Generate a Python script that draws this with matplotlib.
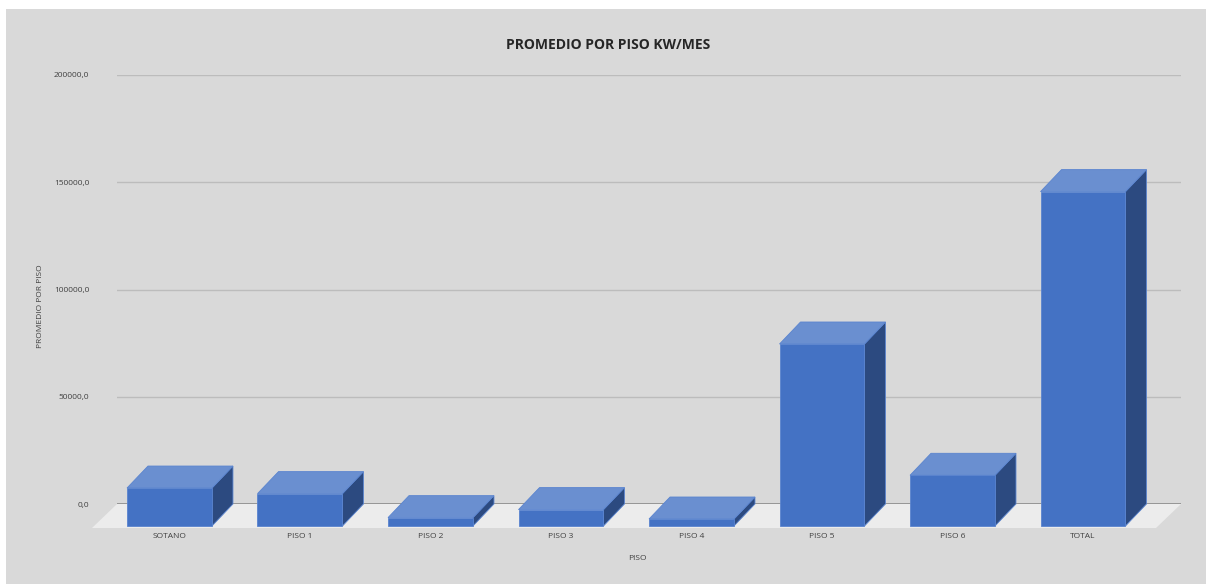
import matplotlib.pyplot as plt
import matplotlib.transforms as mtransforms
from matplotlib.patches import Polygon, Rectangle
from matplotlib.ticker import FuncFormatter

plt.rcParams['font.family'] = ['Open Sans', 'DejaVu Sans']

categories = ['SOTANO', 'PISO 1', 'PISO 2', 'PISO 3', 'PISO 4', 'PISO 5', 'PISO 6', 'TOTAL']
values = [17700, 15100, 3900, 7650, 3260, 84850, 23640, 155900]

front_col = '#4472c4'
top_col = '#6a8fd0'
side_col = '#2c4a80'
edge_col = '#5a84cf'
bg_col = '#d9d9d9'

W, H = 1207, 584
fig = plt.figure(figsize=(W / 100, H / 100), dpi=100, facecolor='white')

# grey chart area with thin white border
fig.patches.append(Rectangle((6 / W, 0), (W - 7) / W, (H - 9) / H, transform=fig.transFigure,
                             facecolor=bg_col, edgecolor='none', zorder=-5))

ax = fig.add_axes([117 / W, (H - 504) / H, (1181 - 117) / W, (504 - 75) / H])
ax.set_zorder(1)
ax.set_facecolor('none')
ax.set_ylim(0, 200000)
ax.set_xlim(-0.563, 7.59)
ax.set_autoscale_on(False)
ident = mtransforms.IdentityTransform()

# offsets for the 3d depth (front of the box is left/down of the back wall)
dx, dy = -21, -22
front = mtransforms.offset_copy(ax.transData, fig=fig, x=dx, y=dy, units='dots')
floor_front = mtransforms.offset_copy(ax.transData, fig=fig, x=-25, y=-24, units='dots')

# gridlines
for g in [50000, 100000, 150000, 200000]:
    ax.axhline(g, color='#bcbcbc', lw=1.0, zorder=1)

# floor
x0, x1 = ax.get_xlim()
p_back = ax.transData.transform([(x0, 0), (x1, 0)])
p_front = floor_front.transform([(x1, 0), (x0, 0)])
ax.add_patch(Polygon(list(p_back) + list(p_front), closed=True, transform=ident,
                     facecolor='#ececec', edgecolor='none', zorder=2, clip_on=False))
ax.axhline(0, color='#8a8a8a', lw=1.2, zorder=3)

width = 0.651
for i, v in enumerate(values):
    l, r = i - width / 2, i + width / 2
    fb = front.transform([(l, 0), (r, 0), (r, v), (l, v)])
    bb = ax.transData.transform([(l, 0), (r, 0), (r, v), (l, v)])
    side = [fb[1], bb[1], bb[2], fb[2]]
    top = [fb[3], fb[2], bb[2], bb[3]]
    for pts, c in [(side, side_col), (top, top_col), (fb, front_col)]:
        ax.add_patch(Polygon(pts, closed=True, transform=ident, facecolor=c,
                             edgecolor=edge_col, lw=0.6, zorder=5, clip_on=False))

ax.set_xticks([])
ax.set_yticks([0, 50000, 100000, 150000, 200000])
ax.yaxis.set_major_formatter(FuncFormatter(lambda v, p: f'{v:.1f}'.replace('.', ',')))
ax.tick_params(axis='y', length=0, pad=20, labelsize=6, labelcolor='#404040')
for s in ax.spines.values():
    s.set_visible(False)

# category labels under front faces
for i, c in enumerate(categories):
    xd, _ = front.transform((i, 0))
    fig.text(xd / W, (H - 537) / H, c, ha='center', va='center', fontsize=6, color='#404040')

fig.text(608 / W, (H - 45) / H, 'PROMEDIO POR PISO KW/MES', ha='center', va='center',
         fontsize=10, fontweight='bold', color='#262626')
fig.text(637 / W, (H - 559) / H, 'PISO', ha='center', va='center', fontsize=6, color='#404040')
fig.text(40 / W, (H - 306) / H, 'PROMEDIO POR PISO', ha='center', va='center', rotation=90,
         fontsize=6, color='#404040')

fig.savefig('out.png', dpi=100, facecolor='white')
